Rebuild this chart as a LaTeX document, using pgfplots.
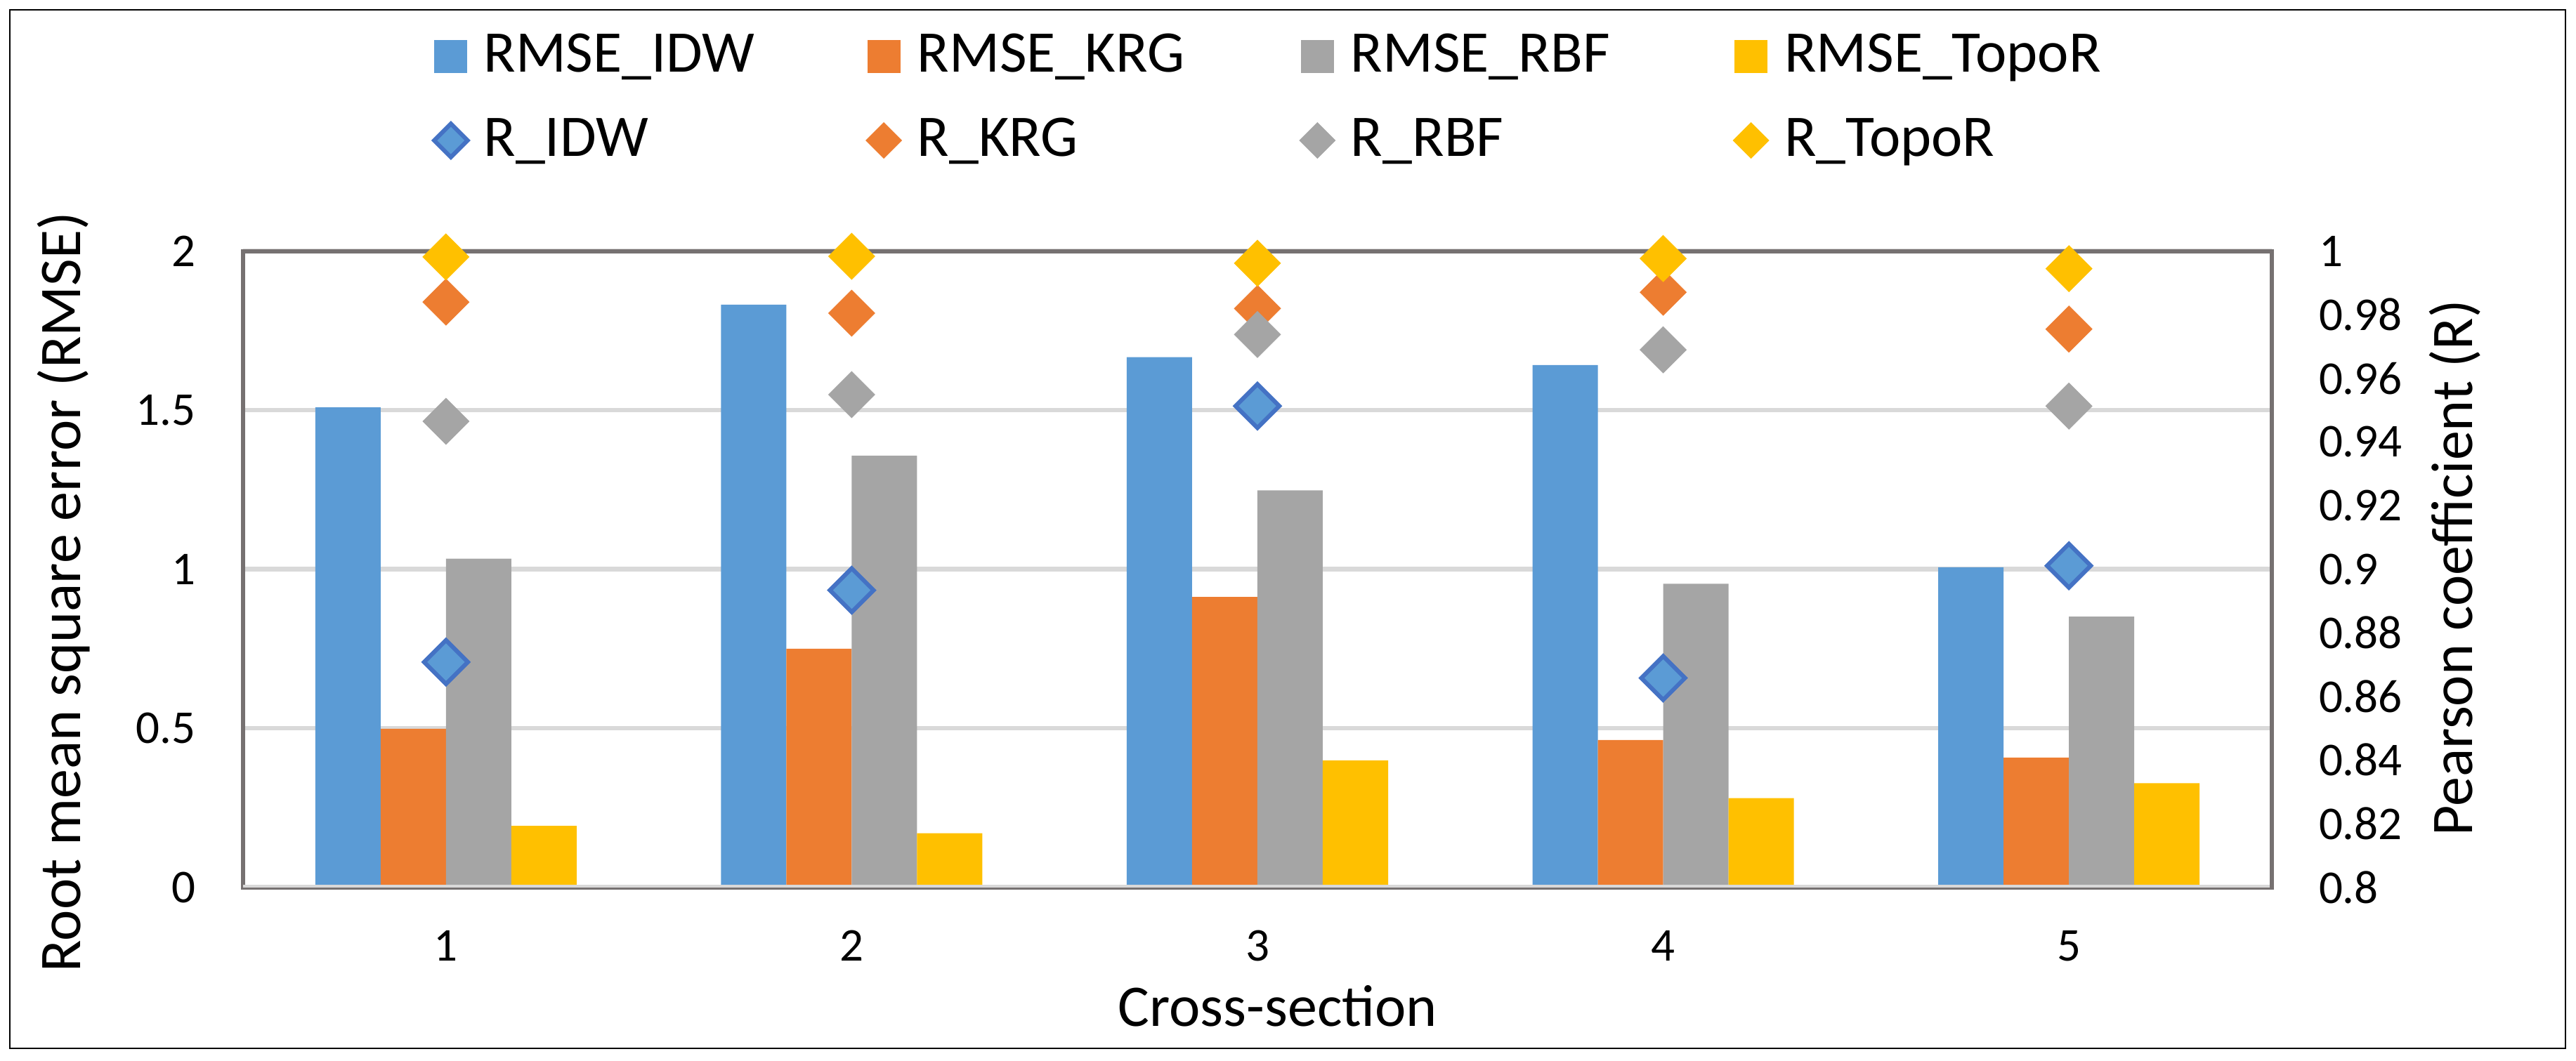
\documentclass[border=0pt]{standalone}
\usepackage{fontspec}
\setmainfont{Carlito}
\usepackage{pgfplots}
\pgfplotsset{compat=1.18}
\definecolor{cblue}{HTML}{5B9BD5}
\definecolor{corange}{HTML}{ED7D31}
\definecolor{cgray}{HTML}{A5A5A5}
\definecolor{cyellow}{HTML}{FFC000}
\definecolor{cdblue}{HTML}{4472C4}
\definecolor{axisgray}{HTML}{767171}
\definecolor{gridgray}{HTML}{D9D9D9}
\newcommand{\tickfont}{\fontsize{6.7}{8}\selectfont}
\newcommand{\labfont}{\fontsize{8.4}{10}\selectfont}
\begin{document}
\begin{tikzpicture}
\path[use as bounding box] (0,0) rectangle (366.7pt,151pt);
\draw[line width=0.25pt] (1.4pt,1.7pt) rectangle (365.2pt,149.6pt);
\begin{axis}[
  at={(34.6pt,24.65pt)}, anchor=south west,
  scale only axis, width=288.8pt, height=90.58pt,
  xmin=0.5, xmax=5.5, ymin=0, ymax=2,
  xtick={1,2,3,4,5}, xticklabels={1,2,3,4,5},
  ytick={0,0.5,1,1.5,2}, yticklabels={0,0.5,1,1.5,2},
  major tick length=0pt, tick style={draw=none},
  /pgf/number format/assume math mode=true,
  tick label style={font=\tickfont},
  xticklabel style={anchor=north, inner sep=0pt, yshift=-5.95pt},
  yticklabel style={anchor=east, inner sep=0pt, xshift=-6.6pt},
  axis line style={draw=axisgray, line width=0.6pt},
  ymajorgrids, grid style={draw=gridgray, line width=0.65pt},
  ybar=0pt, bar width=9.3pt,
  xlabel={Cross-section},
  ylabel={Root mean square error (RMSE)},
  label style={font=\labfont},
  xlabel style={at={(axis description cs:0.51,-0.218)}, anchor=base},
  ylabel style={at={(axis description cs:-0.080,0.464)}, anchor=base},
  legend columns=4,
  legend style={at={(axis description cs:0.0942,1.348)}, anchor=north west,
    draw=none, fill=none, inner sep=0pt, outer sep=0pt,
    font=\labfont,
    cells={anchor=west},
    nodes={inner sep=0pt, text height=6pt, text depth=1.6pt},
    row sep=4.35pt,
    /tikz/every odd column/.append style={column sep=2.3pt},
    /tikz/every even column/.append style={column sep=4.5pt}},
  barleg/.style={legend image code/.code={\path[##1] (0pt,-2.35pt) rectangle (4.7pt,2.35pt);}},
  mkleg/.style={legend image code/.code={\draw[##1] plot coordinates {(2.35pt,0pt)};}},
]
\addplot[fill=cblue, draw=none, barleg] coordinates {(1,1.509) (2,1.832) (3,1.667) (4,1.642) (5,1.006)};
\addlegendentry{\makebox[50pt][l]{RMSE\_IDW}}
\addplot[fill=corange, draw=none, barleg] coordinates {(1,0.498) (2,0.750) (3,0.913) (4,0.463) (5,0.408)};
\addlegendentry{\makebox[50pt][l]{RMSE\_KRG}}
\addplot[fill=cgray, draw=none, barleg] coordinates {(1,1.033) (2,1.357) (3,1.248) (4,0.954) (5,0.851)};
\addlegendentry{\makebox[50pt][l]{RMSE\_RBF}}
\addplot[fill=cyellow, draw=none, barleg] coordinates {(1,0.193) (2,0.170) (3,0.399) (4,0.280) (5,0.327)};
\addlegendentry{\makebox[50pt][l]{RMSE\_TopoR}}
\addlegendimage{only marks, mark=square*, mark size=1.68pt, mark options={rotate=45, draw=cdblue, fill=cblue, line width=0.6pt}, mkleg}
\addlegendentry{\makebox[50pt][l]{R\_IDW}}
\addlegendimage{only marks, mark=square*, mark size=1.74pt, mark options={rotate=45, draw=corange, fill=corange, line width=0.2pt}, mkleg}
\addlegendentry{\makebox[50pt][l]{R\_KRG}}
\addlegendimage{only marks, mark=square*, mark size=1.74pt, mark options={rotate=45, draw=cgray, fill=cgray, line width=0.2pt}, mkleg}
\addlegendentry{\makebox[50pt][l]{R\_RBF}}
\addlegendimage{only marks, mark=square*, mark size=1.74pt, mark options={rotate=45, draw=cyellow, fill=cyellow, line width=0.2pt}, mkleg}
\addlegendentry{\makebox[50pt][l]{R\_TopoR}}
\draw[gridgray, line width=0.65pt] (rel axis cs:0,0) -- (rel axis cs:1,0);
\end{axis}
\begin{axis}[
  at={(34.6pt,24.65pt)}, anchor=south west,
  scale only axis, width=288.8pt, height=90.58pt,
  xmin=0.5, xmax=5.5, ymin=0.8, ymax=1,
  axis x line=none, axis y line*=right,
  ytick={0.8,0.82,0.84,0.86,0.88,0.9,0.92,0.94,0.96,0.98,1},
  yticklabels={0.8,0.82,0.84,0.86,0.88,0.9,0.92,0.94,0.96,0.98,1},
  major tick length=0pt, tick style={draw=none},
  /pgf/number format/assume math mode=true,
  tick label style={font=\tickfont},
  yticklabel style={anchor=west, inner sep=0pt, xshift=6.5pt},
  axis line style={draw=axisgray, line width=0.6pt},
  ylabel={Pearson coefficient (R)},
  label style={font=\labfont},
  ylabel style={at={(axis description cs:1.099,0.502)}, anchor=base, rotate=0},
  clip=false,
]
\addplot[only marks, mark=square*, mark size=2.2pt, mark options={rotate=45, draw=cdblue, fill=cblue, line width=0.6pt}] coordinates {(1,0.8708) (2,0.8934) (3,0.9513) (4,0.8658) (5,0.9011)};
\addplot[only marks, mark=square*, mark size=2.27pt, mark options={rotate=45, draw=corange, fill=corange, line width=0.2pt}] coordinates {(1,0.9840) (2,0.9805) (3,0.9820) (4,0.9871) (5,0.9755)};
\addplot[only marks, mark=square*, mark size=2.27pt, mark options={rotate=45, draw=cgray, fill=cgray, line width=0.2pt}] coordinates {(1,0.9465) (2,0.9549) (3,0.9738) (4,0.9690) (5,0.9513)};
\addplot[only marks, mark=square*, mark size=2.27pt, mark options={rotate=45, draw=cyellow, fill=cyellow, line width=0.2pt}] coordinates {(1,0.9982) (2,0.9984) (3,0.9962) (4,0.9977) (5,0.9945)};
\end{axis}
\end{tikzpicture}
\end{document}
